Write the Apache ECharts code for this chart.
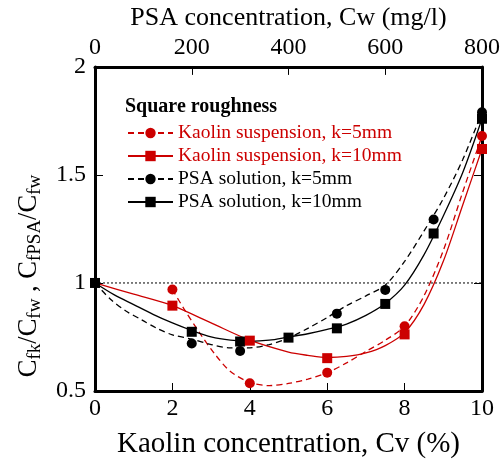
<!DOCTYPE html>
<html><head><meta charset="utf-8">
<script src="https://cdn.jsdelivr.net/npm/echarts@6/dist/echarts.min.js"></script>
<style>html,body{margin:0;padding:0;background:#fff}#c{width:503px;height:464px}</style>
</head><body><div id="c"></div>
<script>
// ---- data ----
const xTicksBottom = [0, 2, 4, 6, 8, 10];
const xTicksTop = [0, 200, 400, 600, 800];
const yTicks = [0.5, 1, 1.5, 2];

// markers
const kaolin5X = [2, 4, 6, 8, 10];
const kaolin5Y = [0.97, 0.536, 0.585, 0.80, 1.68];
const kaolin10X = [2, 4, 6, 8, 10];
const kaolin10Y = [0.895, 0.733, 0.652, 0.762, 1.62];
const psa5X = [2.5, 3.75, 6.25, 7.5, 8.75, 10];
const psa5Y = [0.72, 0.685, 0.858, 0.968, 1.294, 1.79];
const psa10X = [0, 2.5, 3.75, 5, 6.25, 7.5, 8.75, 10];
const psa10Y = [1.0, 0.774, 0.729, 0.747, 0.79, 0.903, 1.229, 1.76];

// fitted curves
const kaolin5CurveX = [2.0, 2.3, 2.7, 3.1, 3.5, 4.0, 4.5, 5.0, 5.5, 6.0, 6.5, 7.0, 7.5, 8.0, 8.5, 9.0, 9.5, 10];
const kaolin5CurveY = [0.97, 0.88, 0.77, 0.67, 0.59, 0.54, 0.525, 0.535, 0.555, 0.585, 0.63, 0.683, 0.735, 0.80, 0.94, 1.15, 1.42, 1.68];
const kaolin10CurveX = [0, 1, 2, 3, 4, 5, 5.5, 6, 6.5, 7, 7.5, 8, 8.5, 9, 9.5, 10];
const kaolin10CurveY = [1.0, 0.948, 0.895, 0.815, 0.735, 0.68, 0.665, 0.655, 0.66, 0.676, 0.71, 0.77, 0.90, 1.10, 1.36, 1.62];
const psa5CurveX = [0, 0.4, 0.8, 1.2, 1.6, 2.0, 2.5, 3.0, 3.5, 4.0, 4.5, 5.0, 5.5, 6.0, 6.5, 7.0, 7.5, 8.0, 8.5, 9.0, 9.5, 10];
const psa5CurveY = [1.0, 0.925, 0.87, 0.83, 0.79, 0.76, 0.74, 0.715, 0.70, 0.70, 0.715, 0.745, 0.79, 0.84, 0.895, 0.94, 0.99, 1.10, 1.24, 1.39, 1.57, 1.79];
const psa10CurveX = [0, 0.5, 1.0, 1.5, 2.0, 2.5, 3.0, 3.5, 4.0, 4.5, 5.0, 5.5, 6.0, 6.5, 7.0, 7.5, 8.0, 8.5, 9.0, 9.5, 10];
const psa10CurveY = [1.0, 0.945, 0.90, 0.855, 0.815, 0.78, 0.75, 0.735, 0.73, 0.735, 0.75, 0.765, 0.785, 0.81, 0.85, 0.905, 0.99, 1.13, 1.31, 1.51, 1.76];

const refLineX = [0, 10];
const refLineY = [1, 1];

const names = ['Kaolin suspension, k=5mm', 'Kaolin suspension, k=10mm', 'PSA solution, k=5mm', 'PSA solution, k=10mm'];

// ---- chart ----
const RED = '#cc0000', BLK = '#000000';
const FONT = 'Liberation Serif';
const zip = (xs, ys) => xs.map((x, i) => [x, ys[i]]);

const axisCommon = {
  axisLine: { show: true, onZero: false, lineStyle: { color: BLK, width: 3 } },
  axisTick: { show: true, inside: true, length: 8, lineStyle: { color: BLK, width: 1 } },
  splitLine: { show: false },
  axisLabel: { color: BLK, fontFamily: FONT, fontSize: 24 }
};

function curve(name, data, color, dashed, symbol) {
  return {
    name, type: 'line', data, smooth: 0.3, showSymbol: false, symbol, symbolSize: 10,
    lineStyle: { color, width: 1.3, type: dashed ? [6, 4] : 'solid' },
    itemStyle: { color }, z: 2, silent: true
  };
}
function marks(name, data, color, symbol, z) {
  return {
    name, type: 'scatter', data, symbol, symbolSize: 10,
    itemStyle: { color, opacity: 1 }, z, silent: true
  };
}

const chart = echarts.init(document.getElementById('c'), null, { renderer: 'canvas' });
chart.setOption({
  animation: false,
  backgroundColor: '#fff',
  grid: { left: 95, right: 20, top: 66, bottom: 67 },
  title: {
    text: 'Square roughness', left: 120, top: 92,
    textStyle: { fontFamily: FONT, fontSize: 20, fontWeight: 'bold', color: BLK }
  },
  legend: {
    orient: 'vertical', left: 122, top: 118, itemWidth: 45, itemHeight: 13, itemGap: 3,
    textStyle: { fontFamily: FONT, fontSize: 19.5, lineHeight: 20 },
    data: [
      { name: names[0], textStyle: { color: RED } },
      { name: names[1], textStyle: { color: RED } },
      { name: names[2], textStyle: { color: BLK } },
      { name: names[3], textStyle: { color: BLK } }
    ],
    selectedMode: false
  },
  xAxis: [
    Object.assign({}, axisCommon, {
      type: 'value', position: 'bottom', min: xTicksBottom[0], max: xTicksBottom[xTicksBottom.length - 1], interval: 2,
      axisLabel: Object.assign({}, axisCommon.axisLabel, { margin: 6 }),
      name: 'Kaolin concentration, Cv (%)', nameLocation: 'middle', nameGap: 39,
      nameTextStyle: { fontFamily: FONT, fontSize: 29, color: BLK }
    }),
    Object.assign({}, axisCommon, {
      type: 'value', position: 'top', min: xTicksTop[0], max: xTicksTop[xTicksTop.length - 1], interval: 200,
      axisLabel: Object.assign({}, axisCommon.axisLabel, { margin: 7 }),
      name: 'PSA concentration, Cw (mg/l)', nameLocation: 'middle', nameGap: 31,
      nameTextStyle: { fontFamily: FONT, fontSize: 26, color: BLK }
    })
  ],
  yAxis: [
    Object.assign({}, axisCommon, {
      type: 'value', position: 'left', min: yTicks[0], max: yTicks[yTicks.length - 1], interval: 0.5,
      axisLabel: Object.assign({}, axisCommon.axisLabel, { margin: 9 })
    }),
    Object.assign({}, axisCommon, {
      type: 'value', position: 'right', min: yTicks[0], max: yTicks[yTicks.length - 1], interval: 0.5,
      axisLabel: { show: false }
    })
  ],
  graphic: [{
    type: 'text', x: 29, y: 276, rotation: Math.PI / 2,
    style: {
      text: '{b|C}{s|fk}{b|/C}{s|fw}{b| , C}{s|fPSA}{b|/C}{s|fw}',
      align: 'center', verticalAlign: 'middle', fill: BLK,
      rich: {
        b: { fontFamily: FONT, fontSize: 26.5, lineHeight: 32, verticalAlign: 'middle', fill: BLK },
        s: { fontFamily: FONT, fontSize: 19, lineHeight: 32, verticalAlign: 'bottom', fill: BLK }
      }
    }
  }],
  series: [
    {
      name: 'ref', type: 'line', data: zip(refLineX, refLineY), symbol: 'none', silent: true,
      lineStyle: { color: BLK, width: 1, type: [2, 2] }, z: 1
    },
    curve(names[0], zip(kaolin5CurveX, kaolin5CurveY), RED, true, 'circle'),
    curve(names[1], zip(kaolin10CurveX, kaolin10CurveY), RED, false, 'rect'),
    curve(names[2], zip(psa5CurveX, psa5CurveY), BLK, true, 'circle'),
    curve(names[3], zip(psa10CurveX, psa10CurveY), BLK, false, 'rect'),
    marks('m_psa5', zip(psa5X, psa5Y), BLK, 'circle', 3),
    marks('m_k5', zip(kaolin5X, kaolin5Y), RED, 'circle', 3),
    marks('m_psa10', zip(psa10X, psa10Y), BLK, 'rect', 4),
    marks('m_k10', zip(kaolin10X, kaolin10Y), RED, 'rect', 5)
  ]
});
</script></body></html>
